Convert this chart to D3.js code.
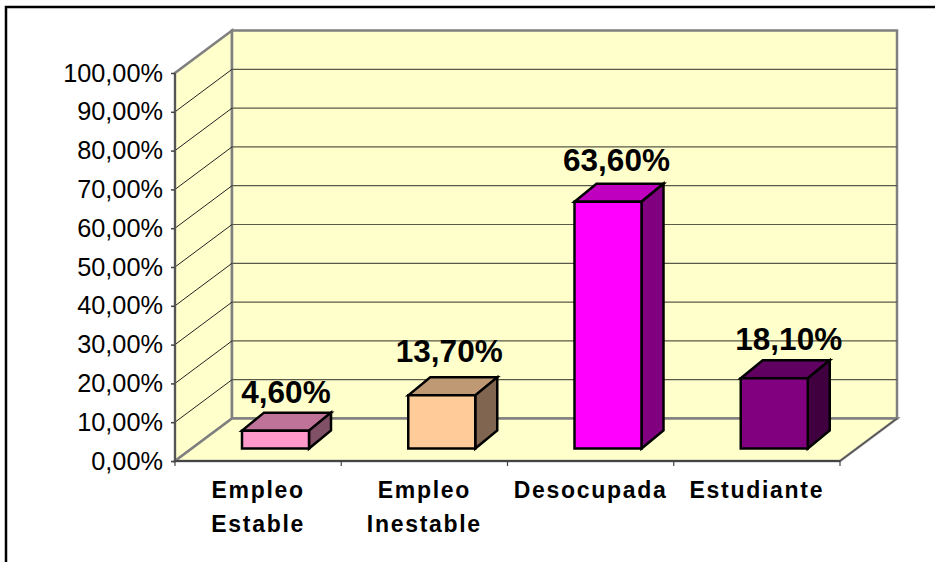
<!DOCTYPE html>
<html>
<head>
<meta charset="utf-8">
<script src="https://cdnjs.cloudflare.com/ajax/libs/d3/7.8.5/d3.min.js"></script>
<style>
  html, body { margin: 0; padding: 0; background: #fff; }
  svg { display: block; }
  text { font-family: "Liberation Sans", Arial, sans-serif; fill: #000; }
</style>
</head>
<body>
<div id="chartContainer"></div>
<script>
const categories = ["Empleo Estable", "Empleo Inestable", "Desocupada", "Estudiante"];
const categoryLines = [["Empleo", "Estable"], ["Empleo", "Inestable"], ["Desocupada"], ["Estudiante"]];
const values = [4.6, 13.7, 63.6, 18.1];
const faceColors = ["#ff99cc", "#ffcc99", "#ff00ff", "#800080"];
const topColors = ["#bf7399", "#bf9973", "#bf00bf", "#600060"];
const sideColors = ["#805066", "#806650", "#800080", "#400040"];
const yTicks = [0, 10, 20, 30, 40, 50, 60, 70, 80, 90, 100];

const width = 935;
const height = 562;
const floorDx = 57, floorDy = 43;   // depth of the whole box
const barDx = 22, barDy = 18;       // depth of one bar
const barWidth = 67;
// the data labels are not placed evenly over the bars
const labelDx = [10.5, 7.5, 8.5, 14.5];
const labelDy = [28, 33, 31, 28];

const svg = d3.select("#chartContainer")
  .append("svg")
  .attr("width", width)
  .attr("height", height);

// outer frame
svg.append("rect")
  .attr("x", 6).attr("y", 7)
  .attr("width", 940).attr("height", 570)
  .attr("fill", "#fff")
  .attr("stroke", "#000")
  .attr("stroke-width", 2.5);

const xScale = d3.scaleBand().domain(categories).range([175, 840]);
const yScale = d3.scaleLinear().domain([0, 100]).range([461, 73]);
const yBack = v => yScale(v) - floorDy + 0.5;
const yBar = v => yScale(v) - 12.5;

const x0 = xScale.range()[0], x1 = xScale.range()[1];

function poly(points, fill, stroke, sw) {
  return svg.append("polygon")
    .attr("points", points.map(p => p.join(",")).join(" "))
    .attr("fill", fill)
    .attr("stroke", stroke)
    .attr("stroke-width", sw)
    .attr("stroke-linejoin", "miter");
}

const wallFill = "#ffffcc";
const wallStroke = "#808080";

// side wall, back wall and floor
poly([[x0, yScale(0)], [x0, yScale(100)], [x0 + floorDx, yBack(100)], [x0 + floorDx, yBack(0)]], wallFill, wallStroke, 2.5);
poly([[x0 + floorDx, yBack(0)], [x0 + floorDx, yBack(100)], [x1 + floorDx, yBack(100)], [x1 + floorDx, yBack(0)]], wallFill, wallStroke, 2.5);
poly([[x0, yScale(0)], [x0 + floorDx, yBack(0)], [x1 + floorDx, yBack(0)], [x1, yScale(0)]], wallFill, wallStroke, 2.5);

// gridlines
const grid = yTicks.filter(d => d > 0 && d < 100);
svg.selectAll(".grid-back")
  .data(grid)
  .enter()
  .append("line")
  .attr("class", "grid-back")
  .attr("x1", x0 + floorDx).attr("x2", x1 + floorDx)
  .attr("y1", d => yBack(d)).attr("y2", d => yBack(d))
  .attr("stroke", "#5a5a4a")
  .attr("stroke-width", 1.2);
svg.selectAll(".grid-side")
  .data(grid)
  .enter()
  .append("line")
  .attr("class", "grid-side")
  .attr("x1", x0).attr("x2", x0 + floorDx)
  .attr("y1", d => yScale(d)).attr("y2", d => yBack(d))
  .attr("stroke", "#222")
  .attr("stroke-width", 1);

// front edges of the box
svg.append("line")
  .attr("x1", x0).attr("x2", x0)
  .attr("y1", yScale(0)).attr("y2", yScale(100))
  .attr("stroke", "#555").attr("stroke-width", 2);
svg.append("line")
  .attr("x1", x0).attr("x2", x1)
  .attr("y1", yScale(0)).attr("y2", yScale(0))
  .attr("stroke", "#444").attr("stroke-width", 2);
svg.append("line")
  .attr("x1", x1).attr("x2", x1 + floorDx)
  .attr("y1", yScale(0)).attr("y2", yBack(0))
  .attr("stroke", "#444").attr("stroke-width", 1);

// y axis
const yAxis = svg.append("g")
  .attr("transform", `translate(${x0}, 0)`)
  .call(d3.axisLeft(yScale)
    .tickValues(yTicks)
    .tickSize(4)
    .tickPadding(8)
    .tickFormat(d => d3.format(".2f")(d).replace(".", ",") + "%"));
yAxis.select(".domain").remove();
yAxis.selectAll("line").attr("stroke", "#444").attr("stroke-width", 1.5);
yAxis.selectAll("text").attr("font-size", 25.3).attr("font-family", '"Liberation Sans", Arial, sans-serif');

// category ticks sit between the bands
const catEdges = categories.map(c => xScale(c)).concat([x1]);
svg.selectAll(".cat-tick")
  .data(catEdges)
  .enter()
  .append("line")
  .attr("class", "cat-tick")
  .attr("x1", d => d).attr("x2", d => d)
  .attr("y1", yScale(0)).attr("y2", yScale(0) + 5)
  .attr("stroke", "#444")
  .attr("stroke-width", 1.2);

// bars
const barStroke = "#000";
categories.forEach((c, i) => {
  const left = xScale(c) + 67;
  const right = left + barWidth;
  const bottom = yBar(0);
  const top = yBar(values[i]);
  poly([[left, top], [left + barDx, top - barDy], [right + barDx, top - barDy], [right, top]], topColors[i], barStroke, 2.5);
  poly([[right, top], [right + barDx, top - barDy], [right + barDx, bottom - barDy], [right, bottom]], sideColors[i], barStroke, 2.5);
  poly([[left, top], [right, top], [right, bottom], [left, bottom]], faceColors[i], barStroke, 2.5);

  svg.append("text")
    .attr("x", (left + right) / 2 + labelDx[i])
    .attr("y", top - labelDy[i])
    .attr("text-anchor", "middle")
    .attr("font-size", 31.5)
    .attr("font-weight", "bold")
    .text(d3.format(".2f")(values[i]).replace(".", ",") + "%");
});

// category labels
categories.forEach((c, i) => {
  const label = svg.append("text")
    .attr("text-anchor", "middle")
    .attr("font-size", 23)
    .attr("font-weight", "bold")
    .attr("letter-spacing", 1.7);
  categoryLines[i].forEach((line, j) => {
    label.append("tspan")
      .attr("x", xScale(c) + xScale.bandwidth() / 2)
      .attr("y", 498 + j * 34)
      .text(line);
  });
});
</script>
</body>
</html>
